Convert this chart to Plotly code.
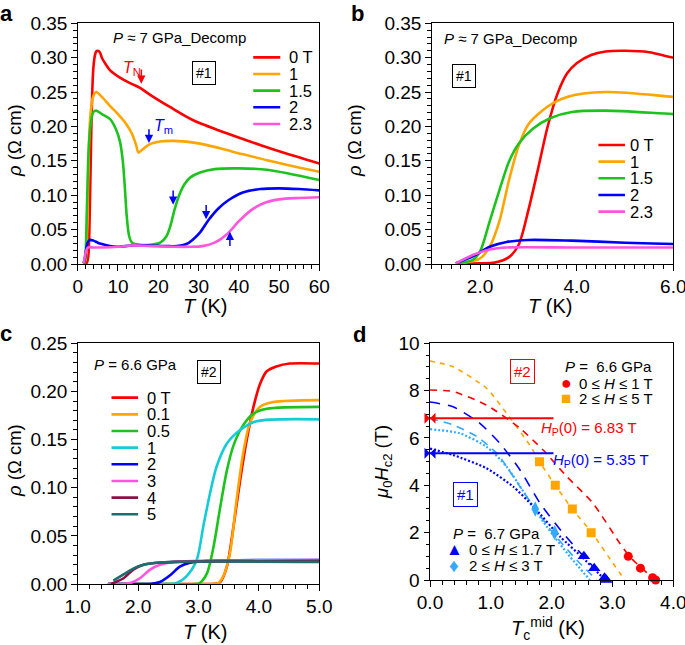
import plotly.graph_objects as go

FONT = "Liberation Sans, Arial, Helvetica, sans-serif"
W, H = 685, 645

# ---------------- data: panels a & b (P ~ 7 GPa, decompression, sample #1) -------------
fields_ab = ["0 T", "1", "1.5", "2", "2.3"]
colors_ab = ["#FF0000", "#FFA500", "#1DC31D", "#0000FF", "#FF55DD"]

T_0T = [1.5, 2.0, 2.3, 2.6, 2.8, 3.0, 3.2, 3.4, 3.6, 3.8, 4.0, 4.3, 4.6, 5.0, 5.5, 6.0, 7.0, 8.0,
        10.5, 13.0, 15.5, 18.0, 23.0, 28.7, 37.0, 45.3, 51.0, 60.0]
R_0T = [0.000, 0.001, 0.002, 0.010, 0.028, 0.078, 0.138, 0.200, 0.247, 0.277, 0.292, 0.304, 0.309,
        0.310, 0.308, 0.300, 0.290, 0.282, 0.271, 0.263, 0.256, 0.246, 0.228, 0.209, 0.190, 0.173,
        0.162, 0.146]

T_1T = [1.5, 2.0, 2.2, 2.4, 2.6, 2.8, 3.0, 3.4, 3.8, 4.6, 6.0, 8.0, 10.0, 12.0, 13.5, 14.5, 15.1,
        16.0, 17.5, 20.4, 23.8, 30.4, 38.7, 47.0, 60.0]
R_1T = [0.000, 0.008, 0.025, 0.062, 0.122, 0.172, 0.203, 0.229, 0.243, 0.250, 0.243, 0.230, 0.218,
        0.204, 0.189, 0.173, 0.162, 0.166, 0.173, 0.178, 0.179, 0.175, 0.163, 0.151, 0.134]

T_15T = [1.5, 1.85, 2.0, 2.2, 2.4, 2.6, 2.8, 3.1, 3.45, 3.9, 4.6, 6.0, 8.0, 9.5, 10.5, 11.2, 11.7,
         12.2, 12.8, 13.5, 15.5, 18.0, 20.5, 22.0, 23.0, 24.0, 25.2, 26.5, 28.0, 30.4, 34.0, 40.0,
         47.0, 60.0]
R_15T = [0.001, 0.006, 0.018, 0.062, 0.107, 0.149, 0.175, 0.197, 0.212, 0.221, 0.223, 0.218, 0.211,
         0.196, 0.178, 0.150, 0.112, 0.068, 0.040, 0.031, 0.028, 0.028, 0.031, 0.040, 0.055, 0.078,
         0.100, 0.116, 0.126, 0.133, 0.138, 0.139, 0.137, 0.122]

T_2T = [1.5, 1.85, 2.2, 2.55, 3.0, 3.9, 5.0, 6.0, 8.0, 10.0, 13.5, 18.0, 22.0, 24.6, 27.0, 28.5,
        30.4, 32.5, 35.0, 37.5, 41.0, 45.3, 50.0, 55.0, 60.0]
R_2T = [0.001, 0.011, 0.025, 0.032, 0.035, 0.034, 0.031, 0.029, 0.026, 0.025, 0.027, 0.027, 0.026,
        0.026, 0.029, 0.035, 0.046, 0.064, 0.081, 0.093, 0.104, 0.109, 0.110, 0.109, 0.107]

T_23T = [1.5, 1.85, 2.2, 2.55, 4.0, 6.0, 10.0, 13.5, 18.0, 24.0, 28.0, 31.0, 34.0, 37.0, 40.0, 43.0,
         46.0, 50.0, 55.0, 60.0]
R_23T = [0.001, 0.013, 0.021, 0.024, 0.024, 0.024, 0.025, 0.027, 0.026, 0.025, 0.025, 0.026, 0.031,
         0.043, 0.062, 0.078, 0.088, 0.094, 0.096, 0.097]

T_ab = [T_0T, T_1T, T_15T, T_2T, T_23T]
R_ab = [R_0T, R_1T, R_15T, R_2T, R_23T]

# ---------------- data: panel c (P = 6.6 GPa, sample #2) ----------------
fields_c = ["0 T", "0.1", "0.5", "1", "2", "3", "4", "5"]
colors_c = ["#FF0000", "#FFA500", "#1DC31D", "#14CCD6", "#0000FF", "#FF55DD", "#8E1048", "#1C6E6E"]
T_c = [
    [1.5, 2.5, 3.2, 3.3, 3.36, 3.47, 3.58, 3.69, 3.80, 3.91, 4.02, 4.13, 4.29, 4.51, 5.0],
    [1.5, 2.5, 3.2, 3.33, 3.41, 3.52, 3.63, 3.74, 3.85, 4.02, 4.24, 5.0],
    [1.5, 2.3, 2.95, 3.02, 3.14, 3.25, 3.36, 3.47, 3.58, 3.74, 3.91, 4.13, 5.0],
    [1.5, 2.2, 2.55, 2.64, 2.80, 2.97, 3.08, 3.19, 3.30, 3.47, 3.69, 3.96, 5.0],
    [1.5, 2.0, 2.2, 2.36, 2.53, 2.69, 2.86, 3.14, 5.0],
    [1.5, 1.75, 1.87, 2.03, 2.20, 2.36, 2.58, 3.0, 5.0],
    [1.55, 1.59, 1.76, 1.92, 2.09, 2.31, 2.7, 5.0],
    [1.59, 1.76, 1.92, 2.09, 2.31, 2.58, 5.0],
]
R_c = [
    [0.0, 0.0, 0.0, 0.0005, 0.002, 0.018, 0.060, 0.108, 0.150, 0.184, 0.208, 0.221, 0.226, 0.229, 0.229],
    [0.0, 0.0, 0.0, 0.001, 0.008, 0.032, 0.087, 0.136, 0.167, 0.184, 0.189, 0.191],
    [0.0, 0.0, 0.0, 0.001, 0.011, 0.039, 0.080, 0.118, 0.144, 0.165, 0.177, 0.182, 0.184],
    [0.0, 0.0, 0.0, 0.001, 0.008, 0.025, 0.060, 0.094, 0.122, 0.146, 0.160, 0.169, 0.171],
    [0.0, 0.0, 0.0, 0.002, 0.009, 0.018, 0.022, 0.024, 0.025],
    [0.0, 0.0, 0.001, 0.006, 0.015, 0.020, 0.023, 0.024, 0.025],
    [0.0, 0.001, 0.006, 0.015, 0.020, 0.022, 0.023, 0.024],
    [0.0035, 0.010, 0.016, 0.020, 0.022, 0.023, 0.023],
]

# ---------------- data: panel d (upper critical field) ----------------
circ_T = [3.26, 3.46, 3.66, 3.71]
circ_H = [1.0, 0.5, 0.1, 0.0]
sq_T = [1.80, 2.06, 2.34, 2.65]
sq_H = [5.0, 4.0, 3.0, 2.0]
tri_T = [2.53, 2.70, 2.87, 2.90]
tri_H = [1.0, 0.5, 0.1, 0.0]
dia_T = [1.73, 2.05]
dia_H = [3.0, 2.0]

fit_red_T = [0, 0.38, 0.93, 1.48, 1.86, 2.25, 2.68, 3.12, 3.28, 3.48, 3.71]
fit_red_H = [8.03, 7.96, 7.39, 6.41, 5.49, 4.37, 3.24, 1.55, 1.0, 0.5, 0.0]
fit_org_T = [0, 0.38, 0.93, 1.26, 1.64, 1.80, 2.06, 2.34, 2.66, 2.93, 3.20]
fit_org_H = [9.25, 9.01, 8.10, 7.04, 5.70, 5.0, 4.0, 3.0, 2.0, 1.0, 0.0]
fit_blu_T = [0, 0.38, 0.82, 1.15, 1.48, 1.81, 2.19, 2.58, 2.90]
fit_blu_H = [7.52, 7.32, 6.62, 5.77, 4.65, 3.24, 1.97, 0.85, 0.0]
fit_lbd_T = [0, 0.38, 0.77, 1.10, 1.37, 1.70, 2.03, 2.41, 2.74]
fit_lbd_H = [6.83, 6.55, 6.06, 5.35, 4.37, 3.10, 1.97, 0.85, 0.0]
fit_lbo_T = [0, 0.49, 0.93, 1.26, 1.59, 1.92, 2.30, 2.63]
fit_lbo_H = [6.37, 6.20, 5.63, 4.79, 3.52, 2.25, 0.99, 0.0]
fit_bdo_T = [0, 0.38, 0.93, 1.37, 1.70, 2.14, 2.52, 2.88]
fit_bdo_H = [5.55, 5.28, 4.72, 3.94, 3.10, 1.83, 0.92, 0.0]

hp_vals = [6.83, 5.35]
hp_colors = ["#FF0000", "#0000FF"]
hp_T_end = 2.03

# ---------------- figure ----------------
fig = go.Figure()

def dom_x(p0, p1):
    return [p0 / W, p1 / W]

def dom_y(top, bot):
    return [1 - bot / H, 1 - top / H]

XA = dom_x(77.7, 319.3)
XB = dom_x(431.7, 673.3)
XD = dom_x(430.0, 673.3)
YAB = dom_y(23.3, 264.0)
YC = dom_y(343.3, 584.0)
YD = dom_y(343.3, 580.0)

for i in range(5):
    for ax in ("", "2"):
        fig.add_trace(go.Scatter(x=T_ab[i], y=R_ab[i], mode="lines", xaxis="x" + ax, yaxis="y" + ax,
                                 line=dict(color=colors_ab[i], width=2.6, shape="spline", smoothing=0.8),
                                 showlegend=False, cliponaxis=True))

for i in range(len(fields_c)):
    fig.add_trace(go.Scatter(x=T_c[i], y=R_c[i], mode="lines", xaxis="x3", yaxis="y3",
                             line=dict(color=colors_c[i], width=2.6, shape="spline", smoothing=0.8),
                             showlegend=False))

def fit(xs, ys, color, dash, width=1.6):
    fig.add_trace(go.Scatter(x=xs, y=ys, mode="lines", xaxis="x4", yaxis="y4",
                             line=dict(color=color, width=width, dash=dash, shape="spline", smoothing=0.6),
                             showlegend=False))

fit(fit_org_T, fit_org_H, "#FFA500", "5px,5px")
fit(fit_red_T, fit_red_H, "#FF0000", "7px,6px")
fit(fit_blu_T, fit_blu_H, "#0000FF", "10px,8px")
fit(fit_lbd_T, fit_lbd_H, "#33AAFF", "8px,6px")
fit(fit_lbo_T, fit_lbo_H, "#33AAFF", "2px,2px", 2.2)
fit(fit_bdo_T, fit_bdo_H, "#0000FF", "2px,2px", 2.2)

for v, c in zip(hp_vals, hp_colors):
    fig.add_trace(go.Scatter(x=[0, hp_T_end], y=[v, v], mode="lines", xaxis="x4", yaxis="y4",
                             line=dict(color=c, width=2), showlegend=False))
    fig.add_trace(go.Scatter(x=[0], y=[v], mode="markers", xaxis="x4", yaxis="y4", cliponaxis=False,
                             marker=dict(symbol="bowtie", size=11, color=c), showlegend=False))

fig.add_trace(go.Scatter(x=circ_T, y=circ_H, mode="markers", xaxis="x4", yaxis="y4",
                         marker=dict(symbol="circle", size=9, color="#FF0000"), showlegend=False,
                         cliponaxis=False))
fig.add_trace(go.Scatter(x=sq_T, y=sq_H, mode="markers", xaxis="x4", yaxis="y4",
                         marker=dict(symbol="square", size=9, color="#FFA500"), showlegend=False))
fig.add_trace(go.Scatter(x=tri_T, y=tri_H, mode="markers", xaxis="x4", yaxis="y4",
                         marker=dict(symbol="triangle-up", size=11, color="#0000FF"), showlegend=False,
                         cliponaxis=False))
fig.add_trace(go.Scatter(x=dia_T, y=dia_H, mode="markers", xaxis="x4", yaxis="y4",
                         marker=dict(symbol="diamond-tall", size=11, color="#33AAFF"), showlegend=False))

TICKF = dict(family=FONT, size=19, color="black")

def axis(domain, anchor, rng, dtick, mdtick, fmt, tick0=0):
    return dict(domain=domain, anchor=anchor, range=rng, dtick=dtick, tick0=tick0, tickformat=fmt,
                showline=True, linecolor="black", linewidth=1, mirror=True, showgrid=False,
                zeroline=False, ticks="outside", ticklen=5.5, tickwidth=1, tickcolor="black",
                tickfont=TICKF, ticklabelstandoff=0, automargin=False, ticklabeloverflow="allow",
                minor=dict(ticks="outside", ticklen=3.5, tickwidth=1, tickcolor="black",
                           dtick=mdtick, tick0=tick0, showgrid=False))

fig.update_layout(
    width=W, height=H, margin=dict(l=0, r=0, t=0, b=0, pad=0), plot_bgcolor="white",
    paper_bgcolor="white", font=dict(family=FONT, color="black"), showlegend=False,
    xaxis=axis(XA, "y", [0, 60], 10, 2, "d"),
    yaxis=axis(YAB, "x", [0, 0.35], 0.05, 0.01, ".2f"),
    xaxis2=axis(XB, "y2", [1, 6.0001], 2, 0.2, ".1f"),
    yaxis2=axis(YAB, "x2", [0, 0.35], 0.05, 0.01, ".2f"),
    xaxis3=axis(XA, "y3", [1, 5], 1, 0.2, ".1f"),
    yaxis3=axis(YC, "x3", [0, 0.25], 0.05, 0.01, ".2f"),
    xaxis4=axis(XD, "y4", [0, 4.0001], 1, 0.2, ".1f"),
    yaxis4=axis(YD, "x4", [0, 10], 2, 0.5, "d"),
)

ann = []
shapes = []

def txt(x, y, text, xref="paper", yref="paper", size=15, color="black", xanchor="center",
        angle=0, bold=False, **kw):
    t = "<b>%s</b>" % text if bold else text
    d = dict(x=x, y=y, xref=xref, yref=yref, text=t, showarrow=False, xanchor=xanchor,
             yanchor="middle", textangle=angle, font=dict(family=FONT, size=size, color=color))
    d.update(kw)
    ann.append(d)

# panel letters
for lab, (px, py) in zip("abcd", [(6, 13), (357, 13), (6, 333), (359, 334)]):
    txt(px / W, 1 - py / H, lab, size=22, bold=True)

# axis titles
rho_title = "<i>ρ</i> (Ω cm)"
txt(14 / W, 1 - 141 / H, rho_title, size=18.5, angle=-90)
txt(354 / W, 1 - 141 / H, rho_title, size=18.5, angle=-90)
txt(14 / W, 1 - 461 / H, rho_title, size=18.5, angle=-90)
txt(383 / W, 1 - 462 / H, "<i>μ</i><sub>0</sub><i>H</i><sub>c2</sub> (T)", size=18.5, angle=-90)
txt(205 / W, 1 - 306 / H, "<i>T</i> (K)", size=20)
txt(550 / W, 1 - 306 / H, "<i>T</i> (K)", size=20)
txt(205 / W, 1 - 632 / H, "<i>T</i> (K)", size=20)
txt(548 / W, 1 - 628 / H, "<i>T</i><sub>c</sub><sup>mid</sup> (K)", size=20)

# panel a texts
txt(25.4, 0.329, "<i>P</i> ≈ 7 GPa_Decomp", "x", "y", size=15)
txt(31.4, 0.278, "#1", "x", "y", size=14, bordercolor="black", borderwidth=1, borderpad=3)
txt(13.4, 0.284, "<i>T</i><sub>N</sub>", "x", "y", size=16, color="#FF0000")
txt(21.3, 0.200, "<i>T</i><sub>m</sub>", "x", "y", size=16, color="#0000FF")
arrows = [(15.8, 0.285, 0.262, "#FF0000"), (17.7, 0.198, 0.176, "#0000FF"),
          (23.7, 0.109, 0.086, "#0000FF"), (31.9, 0.088, 0.065, "#0000FF"),
          (37.8, 0.024, 0.047, "#0000FF")]
for x, y0, y1, c in arrows:
    ann.append(dict(x=x, y=y1, ax=x, ay=y0, xref="x", yref="y", axref="x", ayref="y", text="",
                    showarrow=True, arrowhead=2, arrowsize=1.1, arrowwidth=1.5, arrowcolor=c))

# legends a, b, c
leg_a_y = [0.3005, 0.2763, 0.2521, 0.2279, 0.2036]
for i, lab in enumerate(fields_ab):
    shapes.append(dict(type="line", xref="x", yref="y", x0=43.6, x1=50.3, y0=leg_a_y[i], y1=leg_a_y[i],
                       line=dict(color=colors_ab[i], width=2.6)))
    txt(52.0, leg_a_y[i], lab, "x", "y", size=16.5, xanchor="left")

txt(2.63, 0.328, "<i>P</i> ≈ 7 GPa_Decomp", "x2", "y2", size=15)
txt(1.66, 0.273, "#1", "x2", "y2", size=14, bordercolor="black", borderwidth=1, borderpad=3)
leg_b_y = [0.1730, 0.1488, 0.1246, 0.1003, 0.0761]
for i, lab in enumerate(fields_ab):
    shapes.append(dict(type="line", xref="x2", yref="y2", x0=4.45, x1=5.0, y0=leg_b_y[i], y1=leg_b_y[i],
                       line=dict(color=colors_ab[i], width=2.6)))
    txt(5.07, leg_b_y[i], lab, "x2", "y2", size=16.5, xanchor="left")

txt(1.95, 0.228, "<i>P</i> = 6.6 GPa", "x3", "y3", size=15)
txt(3.18, 0.2206, "#2", "x3", "y3", size=14, bordercolor="black", borderwidth=1, borderpad=3)
leg_c_y = [0.1936, 0.1762, 0.1589, 0.1416, 0.1243, 0.1070, 0.0897, 0.0724]
for i, lab in enumerate(fields_c):
    shapes.append(dict(type="line", xref="x3", yref="y3", x0=1.56, x1=2.0, y0=leg_c_y[i], y1=leg_c_y[i],
                       line=dict(color=colors_c[i], width=2.6)))
    txt(2.11, leg_c_y[i], lab, "x3", "y3", size=16.5, xanchor="left")

# panel d texts
txt(1.52, 8.8, "#2", "x4", "y4", size=15, color="#FF0000", bordercolor="#FF0000", borderwidth=1,
    borderpad=3)
txt(0.59, 3.6, "#1", "x4", "y4", size=15, color="#0000FF", bordercolor="#0000FF", borderwidth=1,
    borderpad=3)
txt(2.61, 6.4, "<i>H</i><sub>P</sub>(0) = 6.83 T", "x4", "y4", size=15, color="#FF0000")
txt(2.81, 5.04, "<i>H</i><sub>P</sub>(0) = 5.35 T", "x4", "y4", size=15, color="#0000FF")
txt(2.93, 9.0, "<i>P</i> =  6.6 GPa", "x4", "y4", size=15)
txt(2.24, 8.31, "●", "x4", "y4", size=18, color="#FF0000")
txt(2.42, 8.31, "0 ≤ <i>H</i> ≤ 1 T", "x4", "y4", size=15, xanchor="left")
txt(2.24, 7.68, "■", "x4", "y4", size=17, color="#FFA500")
txt(2.42, 7.68, "2 ≤ <i>H</i> ≤ 5 T", "x4", "y4", size=15, xanchor="left")
txt(1.09, 1.97, "<i>P</i> =  6.7 GPa", "x4", "y4", size=15)
txt(0.40, 1.30, "▲", "x4", "y4", size=17, color="#0000FF")
txt(0.61, 1.30, "0 ≤ <i>H</i> ≤ 1.7 T", "x4", "y4", size=15, xanchor="left")
txt(0.40, 0.63, "♦", "x4", "y4", size=19, color="#33AAFF")
txt(0.61, 0.63, "2 ≤ <i>H</i> ≤ 3 T", "x4", "y4", size=15, xanchor="left")

fig.update_layout(annotations=ann, shapes=shapes)
fig.write_html("out.html", config={"displayModeBar": False},
               post_script="document.body.style.margin='0px';document.body.style.padding='0px';")
